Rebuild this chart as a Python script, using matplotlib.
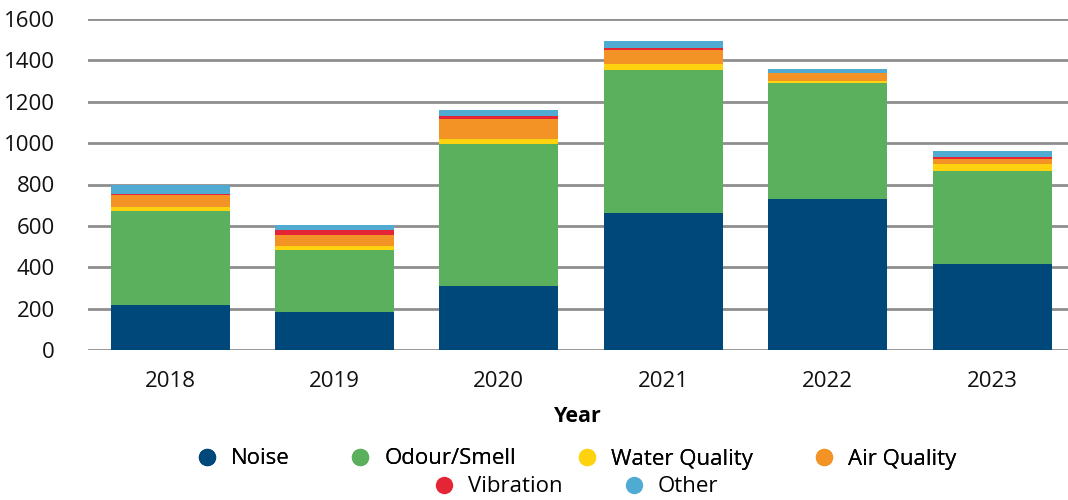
import matplotlib
matplotlib.use("Agg")
import matplotlib.pyplot as plt
from matplotlib.lines import Line2D
import numpy as np

plt.rcParams['font.family'] = ['Open Sans', 'DejaVu Sans']

years = ["2018", "2019", "2020", "2021", "2022", "2023"]
noise = [217, 183, 309, 662, 729, 415]
odour = [454, 300, 686, 690, 560, 449]
water = [19, 19, 24, 29, 10, 34]
air = [58, 53, 96, 68, 39, 24]
vibration = [5, 24, 16, 9, 2, 10]
other = [44, 25, 28, 34, 17, 29]

series = [
    ("Noise", noise, "#00477A"),
    ("Odour/Smell", odour, "#5BB05E"),
    ("Water Quality", water, "#FFD20F"),
    ("Air Quality", air, "#F39325"),
    ("Vibration", vibration, "#E42535"),
    ("Other", other, "#4FABD2"),
]

fig = plt.figure(figsize=(10.68, 5.0), dpi=100)
ax = fig.add_axes([88 / 1068, 0.30, 1 - 88 / 1068, 0.662])

x = np.arange(len(years))
bottom = np.zeros(len(years))
for name, vals, color in series:
    ax.bar(x, vals, bottom=bottom, width=0.724, color=color, zorder=3, linewidth=0)
    bottom += np.array(vals)

ax.set_ylim(0, 1600)
ax.set_xlim(-0.499, 5.462)
ax.set_yticks(range(0, 1601, 200))
ax.yaxis.grid(True, color="#8E8E8E", linewidth=2, zorder=0)
ax.set_xticks(x)
ax.set_xticklabels(years)
for s in ax.spines.values():
    s.set_visible(False)
ax.tick_params(axis="both", length=0, labelsize=16, colors="#111111")
ax.tick_params(axis="y", pad=24)
ax.tick_params(axis="x", pad=15)
ax.set_xlabel("Year", fontsize=15.5, fontweight="bold", labelpad=10)

def handle(color):
    return Line2D([], [], marker="o", linestyle="none", markersize=12.5,
                  markerfacecolor=color, markeredgewidth=0)

legend_kw = dict(loc="center", frameon=False, fontsize=16, handlelength=0.8,
                 handletextpad=0.68, columnspacing=2.8, borderaxespad=0,
                 borderpad=0)
row1 = series[:4]
row2 = series[4:]
leg1 = fig.legend([handle(c) for _, _, c in row1], [n for n, _, _ in row1],
                  bbox_to_anchor=(577 / 1068, 1 - 459 / 500), ncol=4, **legend_kw)
leg2 = fig.legend([handle(c) for _, _, c in row2], [n for n, _, _ in row2],
                  bbox_to_anchor=(577 / 1068, 1 - 487 / 500), ncol=2, **legend_kw)
fig.add_artist(leg1)

fig.savefig("out.png", dpi=100)
